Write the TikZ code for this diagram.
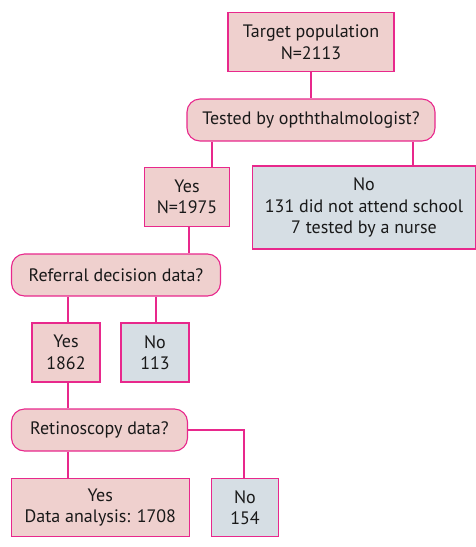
\documentclass[tikz,border=0pt]{standalone}
\usepackage{fontspec}
\setmainfont{PT Sans}
\usetikzlibrary{positioning}

\definecolor{edgepink}{RGB}{232,40,140}
\definecolor{boxpink}{RGB}{239,208,206}
\definecolor{boxgrey}{RGB}{214,222,228}

\tikzset{
  yesbox/.style={draw=edgepink, fill=boxpink, line width=1.1pt, align=center, inner sep=0pt},
  nobox/.style={draw=edgepink, fill=boxgrey, line width=1.1pt, align=center, inner sep=0pt},
  askbox/.style={draw=edgepink, fill=boxpink, line width=1.1pt, rounded corners=13pt, align=center, inner sep=0pt},
  link/.style={draw=edgepink, line width=1.1pt}
}

\begin{document}
\begin{tikzpicture}[x=1pt, y=-1pt, font=\fontsize{18}{21.5}\selectfont, text=black!90]
\useasboundingbox (0,0) rectangle (476,547);
% boxes
\node [yesbox, minimum width=166pt, minimum height=59pt] (target) at (311,42) {Target population\\N=2113};
\node [askbox, minimum width=248pt, minimum height=42pt] (tested) at (311,120) {Tested by opththalmologist?};
\node [yesbox, minimum width=85pt, minimum height=59pt] (yes1) at (187,197) {Yes\\N=1975};
\node [nobox, minimum width=223pt, minimum height=83pt] (no1) at (364,207.5) {No\\131 did not attend school\\7 tested by a nurse};
\node [askbox, minimum width=209pt, minimum height=42pt] (referral) at (116,275) {Referral decision data?};
\node [yesbox, minimum width=68pt, minimum height=59pt] (yes2) at (66,352.5) {Yes\\1862};
\node [nobox, minimum width=68pt, minimum height=59pt] (no2) at (155,352.5) {No\\113};
\node [askbox, minimum width=176pt, minimum height=42pt] (retino) at (99.5,430) {Retinoscopy data?};
\node [yesbox, minimum width=178pt, minimum height=58pt] (yes3) at (100.3,507.7) {Yes\\Data analysis: 1708};
\node [nobox, minimum width=67pt, minimum height=58pt] (no3) at (245,507.7) {No\\154};
% where the lines drop
\coordinate (c1) at (212,0);
\coordinate (c2) at (413,0);
\coordinate (c3) at (189,0);
\coordinate (c4) at (68,0);
\coordinate (c5) at (156,0);
\coordinate (c6) at (244,0);
% connectors
\draw [link] (target) -- (tested);
\draw [link] (tested.south -| c1) -- (yes1.north -| c1);
\draw [link] (tested.south -| c2) -- (no1.north -| c2);
\draw [link] (yes1.south -| c3) -- (referral.north -| c3);
\draw [link] (referral.south -| c4) -- (yes2.north -| c4);
\draw [link] (referral.south -| c5) -- (no2.north -| c5);
\draw [link] (yes2.south -| c4) -- (retino.north -| c4);
\draw [link] (retino.south -| c4) -- (yes3.north -| c4);
\draw [link] (retino.east) -| (no3.north -| c6);
\end{tikzpicture}
\end{document}
